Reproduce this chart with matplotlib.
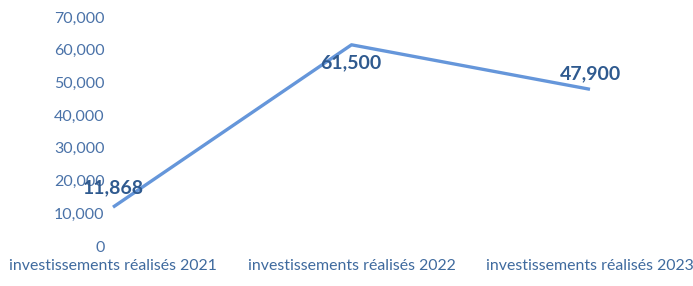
import matplotlib
matplotlib.use("Agg")
import matplotlib.pyplot as plt
from matplotlib.ticker import FuncFormatter

categories = ["investissements réalisés 2021", "investissements réalisés 2022", "investissements réalisés 2023"]
values = [11868, 61500, 47900]
yticks = [0, 10000, 20000, 30000, 40000, 50000, 60000, 70000]
label_offsets = [(0, 14), (-0.7, -13), (0, 11)]

plt.rcParams['font.family'] = ['Lato', 'DejaVu Sans']

fig = plt.figure(figsize=(6.93, 2.86), dpi=100)
ax = fig.add_axes([113/693, 40/286, (590-113)/693, 229/286])
x = list(range(len(categories)))
ax.plot(x, values, color="#6596da", lw=2.4, clip_on=False, solid_capstyle="butt")
ax.set_xlim(0, 2)
ax.set_ylim(0, 70000)
ax.set_yticks(yticks)
ax.yaxis.set_major_formatter(FuncFormatter(lambda v, p: f"{int(v):,}"))
ax.set_xticks(x)
ax.set_xticklabels(categories)
for s in ax.spines.values():
    s.set_visible(False)
ax.tick_params(axis="y", length=0, pad=6, labelsize=11.5, labelcolor="#4a72a8")
ax.tick_params(axis="x", length=0, pad=9, labelsize=11.4, labelcolor="#3f6a9e")
for xi, v, off in zip(x, values, label_offsets):
    ax.annotate(f"{v:,}", (xi, v), xytext=off, textcoords="offset points",
                ha="center", va="center", fontsize=14, fontweight="bold", color="#2f5a8f")
fig.savefig("out.png", dpi=100)
